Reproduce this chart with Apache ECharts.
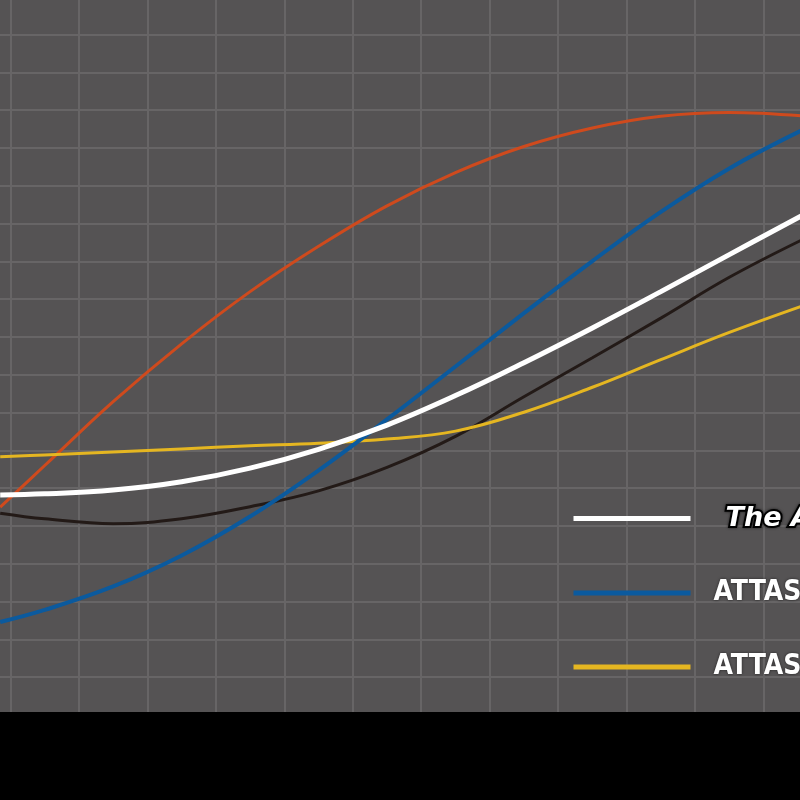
<!DOCTYPE html>
<html>
<head>
<meta charset="utf-8">
<script src="https://cdn.jsdelivr.net/npm/echarts@6/dist/echarts.min.js"></script>
<style>
html,body{margin:0;padding:0;background:#000;overflow:hidden;width:800px;height:800px;position:relative;}
#chart{position:absolute;left:-58.5px;top:-41px;width:890px;height:841px;}
</style>
</head>
<body>
<div id="chart"></div>
<script>
// x positions (grid column units)
const xs = [0.85, 1.5, 2.5, 3.5, 4.5, 5.5, 6.5, 7.5, 8.5, 9.5, 10.5, 11.5, 12.55];
// series values (grid row units)
const theAttas = [5.82, 5.85, 5.95, 6.17, 6.53, 7.03, 7.67, 8.45, 9.32, 10.24, 11.20, 12.18, 13.20];
const attasBlue = [2.46, 2.78, 3.40, 4.22, 5.25, 6.47, 7.82, 9.22, 10.63, 12.01, 13.31, 14.46, 15.46];
const attasYellow = [6.83, 6.88, 6.96, 7.04, 7.12, 7.19, 7.30, 7.51, 8.01, 8.67, 9.40, 10.12, 10.81];
const orangeShaft = [5.50, 6.60, 8.29, 9.82, 11.20, 12.40, 13.47, 14.35, 15.04, 15.53, 15.84, 15.94, 15.85];
const blackShaft = [5.34, 5.19, 5.06, 5.19, 5.51, 5.93, 6.55, 7.37, 8.42, 9.45, 10.50, 11.58, 12.56];

const names = ['The ATTAS', 'ATTAS G7', 'ATTAS 11', 'ATTAS CoooL', 'ATTAS 6☆'];

function pts(arr) { return xs.map((x, i) => [x, arr[i]]); }

const chart = echarts.init(document.getElementById('chart'));
const lineSeries = (name, data, color, width, z) => ({
  name, type: 'line', data: pts(data), smooth: 0.4, symbol: 'none', showSymbol: false,
  lineStyle: { color, width }, itemStyle: { color }, z, clip: false
});
const split = { show: true, showMinLine: false, showMaxLine: false, lineStyle: { color: '#676566', width: 2 } };
chart.setOption({
  animation: false,
  backgroundColor: '#555354',
  grid: { left: 0, right: 0, top: 0, bottom: 85, show: false },
  xAxis: {
    type: 'value', min: 0, max: 13, interval: 1,
    axisLine: { show: false }, axisTick: { show: false }, axisLabel: { show: false },
    splitLine: split
  },
  yAxis: {
    type: 'value', min: 0, max: 20, interval: 1,
    axisLine: { show: false }, axisTick: { show: false }, axisLabel: { show: false },
    splitLine: split
  },
  legend: {
    orient: 'vertical', left: 631.5, top: 544, itemWidth: 117, itemHeight: 5, itemGap: 44,
    icon: 'rect', padding: 0,
    data: [
      { name: names[0], textStyle: { color: '#ffffff', fontFamily: 'DejaVu Sans', fontStyle: 'italic', fontWeight: 900, fontSize: 27, textBorderColor: '#000', textBorderWidth: 4, padding: [0, 0, 0, 30], lineHeight: 30 } },
      { name: names[1] },
      { name: names[2] }
    ],
    textStyle: {
      color: '#ffffff', fontFamily: '"Liberation Sans Narrow", "DejaVu Sans Condensed", sans-serif',
      fontWeight: 'bold', fontSize: 28, lineHeight: 30, padding: [0, 0, 0, 18],
      textShadowColor: 'rgba(0,0,0,0.6)', textShadowBlur: 3
    }
  },
  graphic: [{
    type: 'rect', left: 0, top: 753, z: 100,
    shape: { width: 890, height: 88 }, style: { fill: '#000' }
  }],
  series: [
    lineSeries(names[3], orangeShaft, '#cf4a1d', 3, 2),
    lineSeries(names[4], blackShaft, '#231a17', 3, 3),
    lineSeries(names[2], attasYellow, '#e5b621', 3, 4),
    lineSeries(names[1], attasBlue, '#0b5a9e', 4, 5),
    lineSeries(names[0], theAttas, '#ffffff', 5, 6)
  ]
});
</script>
</body>
</html>
